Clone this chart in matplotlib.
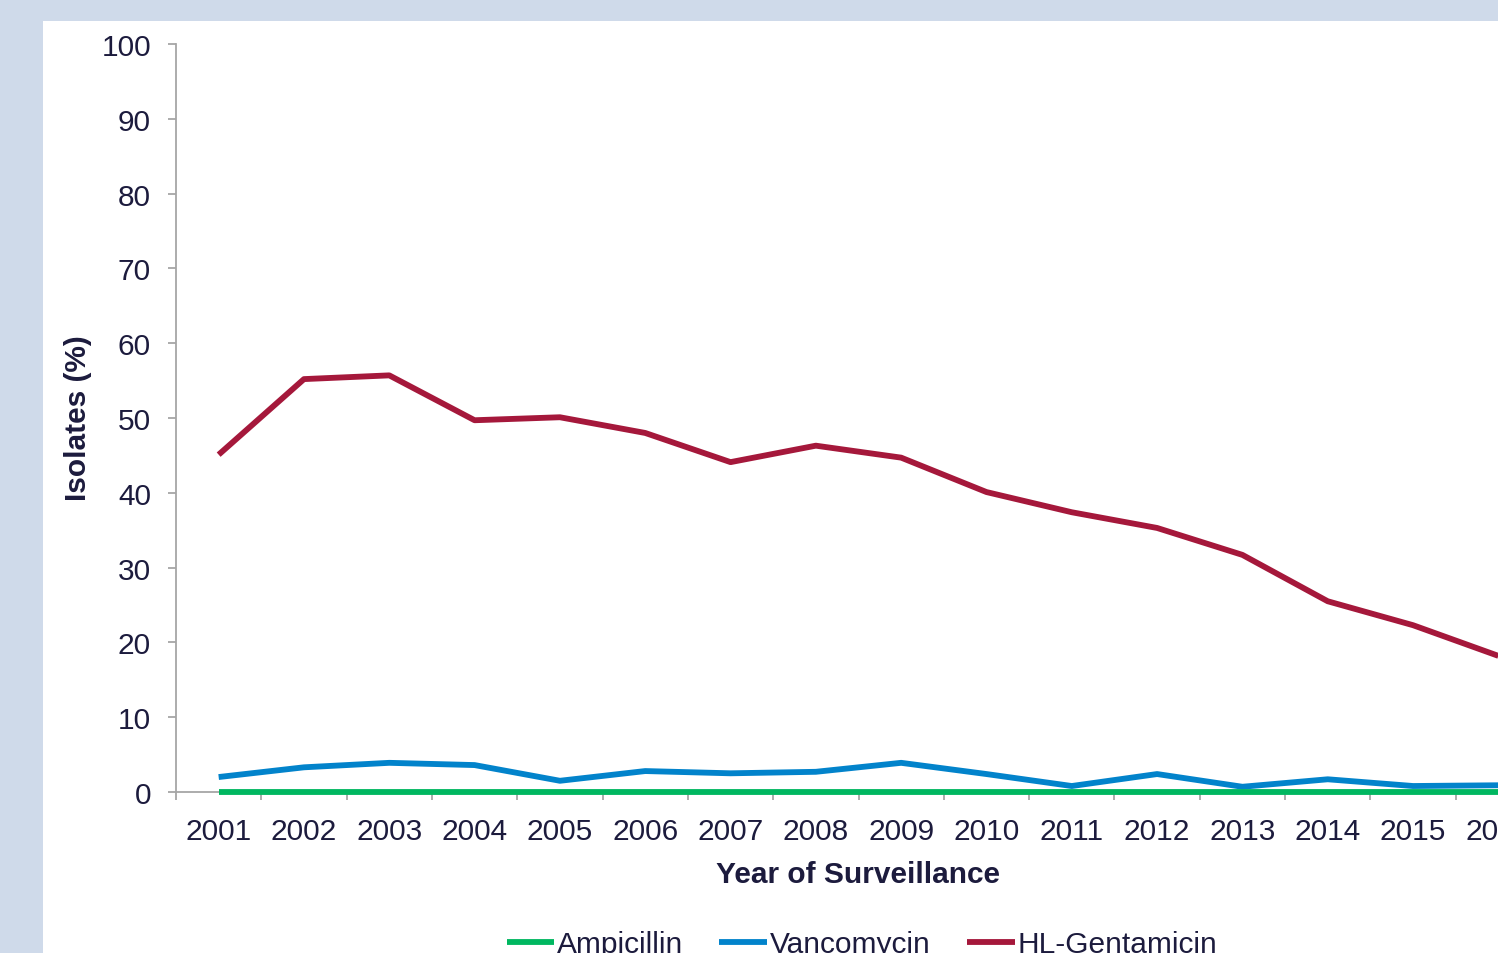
import numpy as np
import matplotlib
matplotlib.use('agg')
import matplotlib.pyplot as plt
from matplotlib.patches import Rectangle

plt.rcParams['font.family'] = ['Liberation Sans', 'DejaVu Sans']

# data
years = ["2001", "2002", "2003", "2004", "2005", "2006", "2007", "2008",
         "2009", "2010", "2011", "2012", "2013", "2014", "2015", "2016"]
ampicillin = [0, 0, 0, 0, 0, 0, 0, 0, 0, 0, 0, 0, 0, 0, 0, 0]
vancomycin = [2.0, 3.3, 3.9, 3.6, 1.5, 2.8, 2.5, 2.7,
              3.9, 2.4, 0.8, 2.4, 0.7, 1.7, 0.8, 0.9]
gentamicin = [45.1, 55.2, 55.7, 49.7, 50.1, 48.0, 44.1, 46.3,
              44.7, 40.1, 37.4, 35.3, 31.7, 25.5, 22.3, 18.2]

W, H = 1498, 954
navy = "#1c1b3d"
grey = "#a6a6a6"
fs = 21.5

fig = plt.figure(figsize=(W / 100, H / 100), dpi=100)
fig.patch.set_facecolor("#cfdaea")
fig.patches.append(Rectangle((43 / W, 0), 1.0, 1 - 22 / H, transform=fig.transFigure,
                             facecolor="white", edgecolor="none", zorder=-5))

ax = fig.add_axes([176 / W, 1 - 793 / H, (1541 - 176) / W, (793 - 45) / H])
ax.set_facecolor("none")
ax.set_zorder(2)

x = np.arange(len(years))
ax.plot(x, ampicillin, color="#00b760", lw=4.2, label="Ampicillin",
        solid_capstyle="butt", zorder=3, clip_on=False)
ax.plot(x, vancomycin, color="#0283cb", lw=4.2, label="Vancomycin", solid_capstyle="butt")
ax.plot(x, gentamicin, color="#a5183b", lw=4.2, label="HL-Gentamicin", solid_capstyle="butt")

ax.set_xlim(-0.5, len(years) - 0.5)
ax.set_ylim(0, 100)
ax.set_yticks(np.arange(0, 101, 10))
ax.set_xticks(np.arange(-0.5, len(years), 1.0))
ax.set_xticklabels([])
ax.set_xticks(x, minor=True)
ax.set_xticklabels(years, minor=True)

for side in ["top", "right"]:
    ax.spines[side].set_visible(False)
for side in ["left", "bottom"]:
    ax.spines[side].set_color(grey)
    ax.spines[side].set_linewidth(1.3)

ax.tick_params(axis="y", direction="out", length=6, width=1.3, color=grey,
               labelsize=fs, labelcolor=navy, pad=12)
ax.tick_params(axis="x", which="major", direction="out", length=6, width=1.3, color=grey)
ax.tick_params(axis="x", which="minor", length=0, labelsize=fs, labelcolor=navy, pad=18)

fig.text(858 / W, 1 - 875 / H, "Year of Surveillance", ha="center", va="center",
         fontsize=fs, fontweight="bold", color=navy)
fig.text(78 / W, 1 - 418 / H, "Isolates (%)", ha="center", va="center", rotation=90,
         fontsize=fs, fontweight="bold", color=navy)

fig.legend(loc="center", bbox_to_anchor=(862 / W, 1 - 945 / H), ncol=3, frameon=False,
           fontsize=fs, handlelength=1.6, handletextpad=0.1, columnspacing=1.2,
           labelcolor=navy)

fig.savefig("out.png", dpi=100)
